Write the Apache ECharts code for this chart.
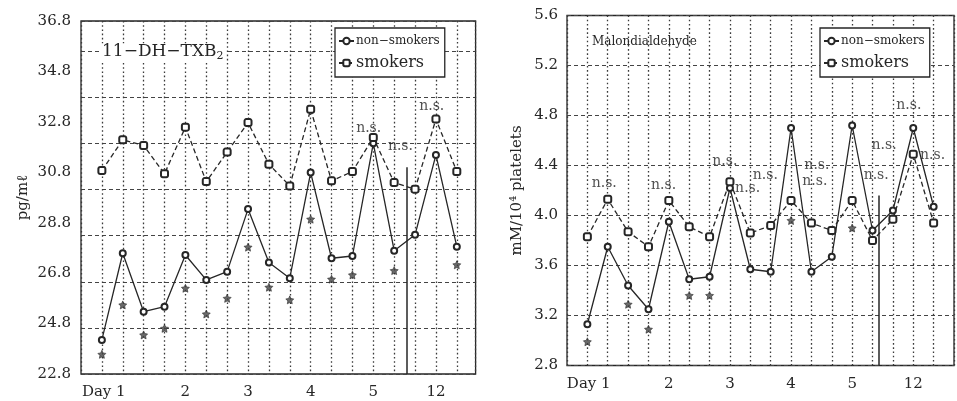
<!DOCTYPE html>
<html>
<head>
<meta charset="utf-8">
<script src="https://cdn.jsdelivr.net/npm/echarts@6/dist/echarts.min.js"></script>
<style>
  html, body { margin: 0; padding: 0; background: #fff; }
  #main { width: 957px; height: 401px; }
</style>
</head>
<body>
<div id="main"></div>
<script>
// x positions: 18 sampling points, a label every third one
var dayLabels = ['', 'Day 1', '', '', '2', '', '', '3', '', '', '4', '', '', '5', '', '', '12', ''];

// left panel: 11-DH-TXB2, pg/ml
var txbTicks = [22.8, 24.8, 26.8, 28.8, 30.8, 32.8, 34.8, 36.8];
var txbNon = [24.15, 27.59, 25.27, 25.47, 27.52, 26.53, 26.86, 29.34, 27.22, 26.60, 30.79, 27.39, 27.48, 31.95, 27.69, 28.32, 31.49, 27.85];
var txbSmk = [30.87, 32.09, 31.86, 30.74, 32.59, 30.43, 31.60, 32.77, 31.12, 30.26, 33.30, 30.46, 30.83, 32.18, 30.39, 30.13, 32.91, 30.83];
var txbStar = [23.58, 25.54, 24.35, 24.61, 26.20, 25.18, 25.80, 27.83, 26.24, 25.74, 28.94, 26.56, 26.73, null, 26.90, null, null, 27.13];
var txbNs = [[12.78, 32.56], [14.3, 31.81], [15.8, 33.4]];

// right panel: Malondialdehyde, mM/10^4 platelets
var mdaTicks = [2.8, 3.2, 3.6, 4.0, 4.4, 4.8, 5.2, 5.6];
var mdaNon = [3.13, 3.75, 3.44, 3.25, 3.95, 3.49, 3.51, 4.22, 3.57, 3.55, 4.70, 3.55, 3.67, 4.72, 3.88, 4.04, 4.70, 4.07];
var mdaSmk = [3.83, 4.13, 3.87, 3.75, 4.12, 3.91, 3.83, 4.27, 3.86, 3.92, 4.12, 3.94, 3.88, 4.12, 3.80, 3.97, 4.49, 3.94];
var mdaStar = [2.99, null, 3.29, 3.09, null, 3.36, 3.36, null, null, null, 3.96, null, null, 3.90, null, null, null, null];
var mdaNs = [[0.83, 4.26], [3.74, 4.24], [6.75, 4.43], [7.87, 4.22], [8.74, 4.32], [11.27, 4.40],
             [11.17, 4.27], [14.57, 4.56], [14.18, 4.32], [15.78, 4.88], [16.95, 4.48]];

// the solid separator between day 5 and day 12
var txbBreak = { x: 14.6, top: 31.0 };
var mdaBreak = { x: 14.32, top: 4.16 };

var ink = '#262626';
var font = 'DejaVu Serif';
var starPath = 'path://M0,-10L2.9,-4L9.5,-3.1L4.7,1.6L5.9,8.1L0,5L-5.9,8.1L-4.7,1.6L-9.5,-3.1L-2.9,-4Z';

function pairs(arr) {
  var out = [];
  arr.forEach(function (v, i) { if (v !== null) out.push([i, v]); });
  return out;
}

function tickLabel(ticks) {
  return function (v) {
    for (var i = 0; i < ticks.length; i++) {
      if (Math.abs(ticks[i] - v) < 1e-6) return ticks[i].toFixed(1);
    }
    return '';
  };
}

function xAxis(gi, max) {
  return {
    gridIndex: gi, type: 'value', min: -1, max: max, interval: 1,
    axisLine: { show: false }, axisTick: { show: false },
    axisLabel: {
      margin: 11, color: ink, fontFamily: font, fontSize: 15,
      formatter: function (v) {
        var s = dayLabels[v] || '';
        if (s === 'Day 1') return '{t|Day 1}{gap|}';
        return s;
      },
      rich: { t: { color: ink, fontFamily: font, fontSize: 15 }, gap: { width: 38 } }
    },
    splitLine: { show: true, lineStyle: { color: '#3a3a3a', width: 1.3, type: [1.6, 2.6] } }
  };
}

function lineSeries(name, xi, yi, data, dashed, sym, size) {
  return {
    name: name, type: 'line', xAxisIndex: xi, yAxisIndex: yi,
    data: pairs(data), symbol: sym, symbolSize: size,
    lineStyle: { color: ink, width: 1.3, type: dashed ? [5, 3] : 'solid' },
    itemStyle: { color: ink, borderColor: ink, borderWidth: 1.2 },
    z: 3
  };
}

function starSeries(xi, yi, data) {
  return {
    type: 'scatter', xAxisIndex: xi, yAxisIndex: yi, data: pairs(data),
    symbol: starPath, symbolSize: 8,
    itemStyle: { color: '#444', borderColor: '#222', borderWidth: 0.7 }, z: 3
  };
}

function nsSeries(xi, yi, data) {
  return {
    type: 'scatter', xAxisIndex: xi, yAxisIndex: yi, data: data,
    symbol: 'circle', symbolSize: 1, itemStyle: { color: 'transparent' },
    label: { show: true, position: 'inside', formatter: 'n.s.', color: ink, fontFamily: font, fontSize: 14 },
    z: 4
  };
}

function breakLine(b, bottom) {
  return {
    silent: true, symbol: ['none', 'none'], label: { show: false },
    lineStyle: { color: ink, width: 1.5, type: 'solid' },
    data: [[{ coord: [b.x, bottom] }, { coord: [b.x, b.top] }]]
  };
}

function legend(left) {
  return {
    left: left, top: 28, orient: 'vertical',
    borderColor: ink, borderWidth: 1.3, backgroundColor: '#fff',
    padding: [7, 5, 6, 3], itemGap: 8, itemWidth: 15, itemHeight: 8,
    textStyle: { color: ink, fontFamily: font },
    data: [
      { name: 'non−smokers', textStyle: { fontSize: 12, padding: [0, 0, 0, -3] } },
      { name: 'smokers', textStyle: { fontSize: 16, padding: [0, 0, 0, -3] } }
    ]
  };
}

var chart = echarts.init(document.getElementById('main'));

var nonL = lineSeries('non−smokers', 0, 0, txbNon, false, 'emptyCircle', 6);
nonL.markLine = breakLine(txbBreak, txbTicks[0]);
var nonR = lineSeries('non−smokers', 1, 2, mdaNon, false, 'emptyCircle', 6);
nonR.markLine = breakLine(mdaBreak, mdaTicks[0]);

var option = {
  animation: false,
  backgroundColor: '#fff',
  title: [
    {
      text: '11−DH−TXB{s|2}', left: 100, top: 42, padding: [0, 2],
      backgroundColor: '#fff',
      textStyle: {
        color: ink, fontFamily: font, fontSize: 17, fontWeight: 'normal',
        rich: { s: { color: ink, fontFamily: font, fontSize: 11, padding: [9, 0, 0, 0] } }
      }
    },
    {
      text: 'Malondialdehyde', left: 592, top: 36, padding: 0,
      textStyle: { color: ink, fontFamily: font, fontSize: 12, fontWeight: 'normal' }
    }
  ],
  legend: [legend(335), legend(820)],
  grid: [
    { left: 81, top: 21, width: 394.6, height: 353, show: true, borderColor: ink, borderWidth: 1.3, backgroundColor: 'transparent' },
    { left: 567, top: 15.5, width: 391.2, height: 350, show: true, borderColor: ink, borderWidth: 1.3, backgroundColor: 'transparent' }
  ],
  xAxis: [xAxis(0, 17.9), xAxis(1, 18)],
  yAxis: [
    {
      gridIndex: 0, type: 'value', min: 22.8, max: 36.8, interval: 0.4,
      name: 'pg/mℓ', nameLocation: 'middle', nameGap: 50,
      nameTextStyle: { color: ink, fontFamily: font, fontSize: 15 },
      axisLine: { show: false }, axisTick: { show: false }, splitLine: { show: false },
      axisLabel: { margin: 10, color: ink, fontFamily: font, fontSize: 15, formatter: tickLabel(txbTicks) }
    },
    {
      // the printed grid of this panel does not sit on the tick labels
      gridIndex: 0, type: 'value', min: 0, max: 7.66, interval: 1, position: 'right',
      axisLine: { show: false }, axisTick: { show: false }, axisLabel: { show: false },
      splitLine: { show: true, lineStyle: { color: '#444', width: 1.2, type: [4, 3] } }
    },
    {
      gridIndex: 1, type: 'value', min: 2.8, max: 5.6, interval: 0.4,
      name: 'mM/10⁴ platelets', nameLocation: 'middle', nameGap: 42,
      nameTextStyle: { color: ink, fontFamily: font, fontSize: 15 },
      axisLine: { show: false }, axisTick: { show: false },
      axisLabel: { margin: 9, color: ink, fontFamily: font, fontSize: 15, formatter: tickLabel(mdaTicks) },
      splitLine: { show: true, lineStyle: { color: '#444', width: 1.2, type: [4, 3] } }
    }
  ],
  series: [
    nonL,
    lineSeries('smokers', 0, 0, txbSmk, true, 'emptyRoundRect', 7),
    starSeries(0, 0, txbStar),
    nsSeries(0, 0, txbNs),
    nonR,
    lineSeries('smokers', 1, 2, mdaSmk, true, 'emptyRoundRect', 7),
    starSeries(1, 2, mdaStar),
    nsSeries(1, 2, mdaNs)
  ]
};

chart.setOption(option);
</script>
</body>
</html>
